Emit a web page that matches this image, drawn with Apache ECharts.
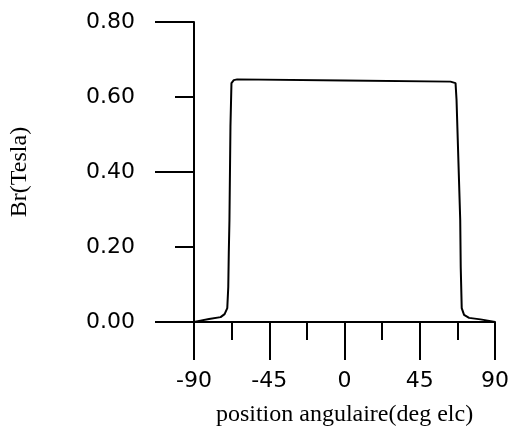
<!DOCTYPE html>
<html>
<head>
<meta charset="utf-8">
<script src="https://cdn.jsdelivr.net/npm/echarts@6/dist/echarts.min.js"></script>
<style>html,body{margin:0;padding:0;background:#fff}#c{width:512px;height:435px}</style>
</head>
<body>
<div id="c"></div>
<script>
// Data
const angles = [-90, -86.9, -81.0, -74.1, -71.7, -70.1, -69.5, -69.2, -68.8, -68.2, -67.6, -66.2, -64.2, 0, 63.4, 66.4, 67.0, 69.2, 69.5, 70.1, 71.5, 74.5, 81.3, 89.2, 90];
const brValues = [0, 0.003, 0.008, 0.013, 0.021, 0.037, 0.094, 0.184, 0.272, 0.521, 0.637, 0.645, 0.647, 0.644, 0.641, 0.637, 0.592, 0.272, 0.147, 0.037, 0.019, 0.011, 0.007, 0.001, 0];
const xTicks = [-90, -45, 0, 45, 90];
const yTicks = [0.00, 0.20, 0.40, 0.60, 0.80];
const xTitle = 'position angulaire(deg elc)';
const yTitle = 'Br(Tesla)';

const chart = echarts.init(document.getElementById('c'), null, {renderer: 'canvas'});
const lineStyle = {color: '#000', width: 2};
const labelFont = {color: '#000', fontFamily: 'DejaVu Sans', fontSize: 22};
chart.setOption({
  animation: false,
  backgroundColor: '#fff',
  grid: {left: 192, right: 14, top: 22, bottom: 113},
  xAxis: {
    type: 'value', min: xTicks[0], max: xTicks[xTicks.length - 1], interval: 45,
    axisLine: {show: true, onZero: false, lineStyle: lineStyle},
    axisTick: {show: true, inside: false, length: 38, lineStyle: lineStyle},
    minorTick: {show: true, splitNumber: 2, length: 18, lineStyle: lineStyle},
    splitLine: {show: false},
    axisLabel: Object.assign({margin: 48, formatter: v => String(v)}, labelFont),
    name: xTitle, nameLocation: 'middle', nameGap: 81,
    nameTextStyle: {color: '#000', fontFamily: 'Liberation Serif', fontSize: 24}
  },
  yAxis: [{
    type: 'value', min: yTicks[0], max: yTicks[yTicks.length - 1], interval: 0.2,
    axisLine: {show: true, onZero: false, lineStyle: lineStyle},
    axisTick: {show: true, inside: false, length: 19, lineStyle: lineStyle},
    splitLine: {show: false},
    axisLabel: Object.assign({margin: 59, formatter: v => v.toFixed(2)}, labelFont),
    name: yTitle, nameLocation: 'middle', nameGap: 162, nameRotate: 90,
    nameTextStyle: {color: '#000', fontFamily: 'Liberation Serif', fontSize: 24}
  }, {
    type: 'value', min: yTicks[0], max: yTicks[yTicks.length - 1], interval: 0.4, position: 'left',
    axisLine: {show: false, onZero: false},
    axisTick: {show: true, inside: false, length: 39, lineStyle: lineStyle},
    splitLine: {show: false},
    axisLabel: {show: false}
  }],
  series: [{
    type: 'line',
    data: angles.map((a, i) => [a, brValues[i]]),
    showSymbol: false,
    lineStyle: lineStyle,
    smooth: false
  }]
});
</script>
</body>
</html>
